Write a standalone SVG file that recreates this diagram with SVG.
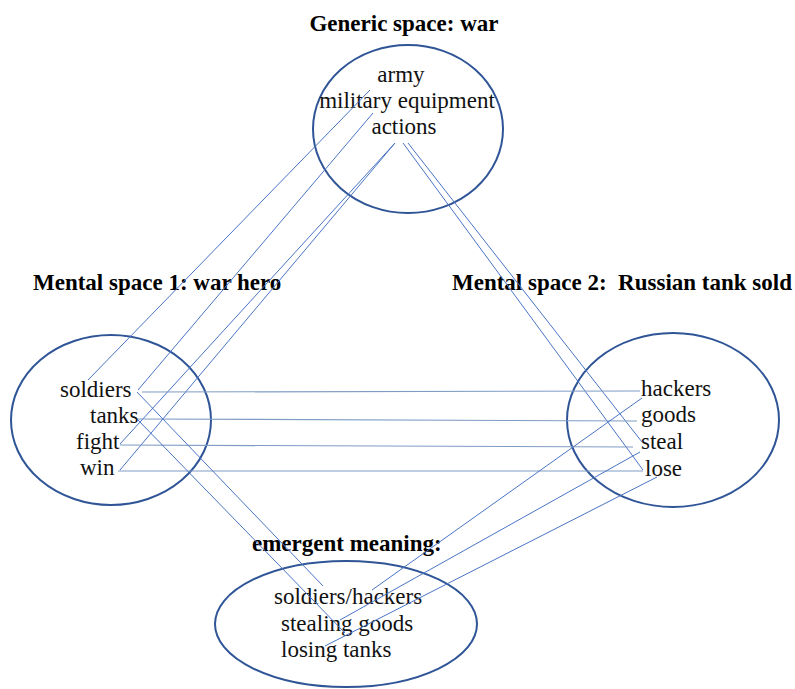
<svg xmlns="http://www.w3.org/2000/svg" width="795" height="689" viewBox="0 0 795 689">
<style>
.bg{fill:#ffffff}
.space{fill:none;stroke:#2f5597;stroke-width:2}
.t{font-family:"Liberation Serif","Times New Roman",serif;font-size:23px;fill:#111}
.h{font-family:"Liberation Serif","Times New Roman",serif;font-size:23px;font-weight:bold;fill:#000}
.c{fill:none;stroke:#4a74c4;stroke-width:1}
.hz{fill:none;stroke:#7f9cc4;stroke-width:1.2}
</style>
<rect class="bg" x="0" y="0" width="795" height="689"/>
<g id="generic-space">
<text class="h" x="404" y="31" text-anchor="middle">Generic space: war</text>
<ellipse class="space" cx="408" cy="129" rx="95" ry="84"/>
<text class="t" x="401" y="82" text-anchor="middle">army</text>
<text class="t" x="407" y="108" text-anchor="middle">military equipment</text>
<text class="t" x="404" y="134" text-anchor="middle">actions</text>
</g>
<g id="mental-space-1">
<text class="h" x="33" y="290">Mental space 1: war hero</text>
<ellipse class="space" cx="111" cy="420" rx="100" ry="85"/>
<text class="t" x="60" y="397">soldiers</text>
<text class="t" x="90" y="423">tanks</text>
<text class="t" x="76" y="449">fight</text>
<text class="t" x="80" y="475">win</text>
</g>
<g id="mental-space-2">
<text class="h" x="452" y="290" xml:space="preserve">Mental space 2:  Russian tank sold</text>
<ellipse class="space" cx="673" cy="420" rx="106" ry="87"/>
<text class="t" x="641" y="396">hackers</text>
<text class="t" x="641" y="422">goods</text>
<text class="t" x="641" y="449">steal</text>
<text class="t" x="645" y="476">lose</text>
</g>
<g id="emergent-meaning">
<text class="h" x="252" y="551">emergent meaning:</text>
<ellipse class="space" cx="346" cy="624" rx="131" ry="63"/>
<text class="t" x="274" y="604">soldiers/hackers</text>
<text class="t" x="281" y="631">stealing goods</text>
<text class="t" x="281" y="657">losing tanks</text>
</g>
<g id="connectors">
<line class="c" x1="370" y1="90" x2="88" y2="380"/>
<line class="c" x1="373" y1="113" x2="138" y2="390"/>
<line class="c" x1="395" y1="143" x2="120" y2="444"/>
<line class="c" x1="395" y1="143" x2="120" y2="470"/>
<line class="c" x1="408" y1="143" x2="642" y2="442"/>
<line class="c" x1="403" y1="143" x2="643" y2="470"/>
<line class="hz" x1="142" y1="392" x2="640" y2="391"/>
<line class="hz" x1="138" y1="419" x2="637" y2="421"/>
<line class="hz" x1="120" y1="445" x2="633" y2="447"/>
<line class="hz" x1="118" y1="471" x2="643" y2="471"/>
<line class="c" x1="137" y1="392" x2="323" y2="586"/>
<line class="c" x1="138" y1="420" x2="345" y2="633"/>
<line class="c" x1="642" y1="398" x2="372" y2="590"/>
<line class="c" x1="640" y1="452" x2="340" y2="620"/>
<line class="c" x1="657" y1="477" x2="325" y2="646"/>
</g>
</svg>
